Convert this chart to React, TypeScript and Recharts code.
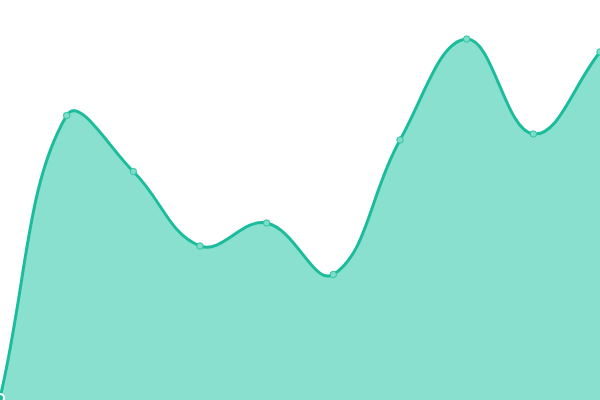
import { AreaChart, Area, XAxis, YAxis } from "recharts";

const labels = ["A", "B", "C", "D", "E", "F", "G", "H", "I", "J"];
const values = [2, 284.5, 228.5, 154, 177, 125.5, 260, 361, 266, 348];

const data = labels.map((name, i) => ({ name, value: values[i] }));

// bezier curve with tension, like the one Chart.js draws
function tensionCurve(tension: number, w: number, h: number) {
  return (context: any) => {
    let pts: [number, number][] = [];
    let line = NaN;
    const clamp = (v: number, max: number) => Math.max(0, Math.min(max, v));
    const draw = () => {
      const n = pts.length;
      if (!n) return;
      if (line) context.lineTo(pts[0][0], pts[0][1]);
      else context.moveTo(pts[0][0], pts[0][1]);
      const cps = pts.map((cur, i) => {
        const prev = pts[i - 1] || cur;
        const next = pts[i + 1] || cur;
        const d01 = Math.hypot(cur[0] - prev[0], cur[1] - prev[1]);
        const d12 = Math.hypot(next[0] - cur[0], next[1] - cur[1]);
        let s01 = d01 / (d01 + d12);
        let s12 = d12 / (d01 + d12);
        if (isNaN(s01)) s01 = 0;
        if (isNaN(s12)) s12 = 0;
        const fa = tension * s01;
        const fb = tension * s12;
        return {
          px: clamp(cur[0] - fa * (next[0] - prev[0]), w),
          py: clamp(cur[1] - fa * (next[1] - prev[1]), h),
          nx: clamp(cur[0] + fb * (next[0] - prev[0]), w),
          ny: clamp(cur[1] + fb * (next[1] - prev[1]), h),
        };
      });
      for (let i = 1; i < n; i++) {
        context.bezierCurveTo(cps[i - 1].nx, cps[i - 1].ny, cps[i].px, cps[i].py, pts[i][0], pts[i][1]);
      }
    };
    return {
      areaStart() { line = 0; },
      areaEnd() { line = NaN; },
      lineStart() { pts = []; },
      lineEnd() {
        draw();
        if (line || (line !== 0 && pts.length === 1)) context.closePath();
        line = 1 - line;
      },
      point(x: number, y: number) { pts.push([+x, +y]); },
    };
  };
}

const curve = tensionCurve(0.4, 600, 400);

const Dot = (props: any) => {
  const { cx, cy, index } = props;
  if (cx == null || cy == null) return <g key={index} />;
  return (
    <circle key={index} cx={cx} cy={cy} r={3.2} fill="#7edcc8" stroke="#2ec4a2" strokeWidth={1} />
  );
};

export default function App() {
  return (
    <div style={{ position: "absolute", top: 0, left: 0, width: 600, height: 400 }}>
      <AreaChart width={600} height={400} data={data} margin={{ top: 0, right: 0, bottom: 0, left: 0 }}>
        <XAxis dataKey="name" hide />
        <YAxis domain={[0, 400]} hide />
        <Area
          type={curve as any}
          dataKey="value"
          stroke="#1abc9c"
          strokeWidth={3}
          fill="#8ae0cf"
          fillOpacity={1}
          dot={Dot}
          isAnimationActive={false}
        />
      </AreaChart>
    </div>
  );
}
